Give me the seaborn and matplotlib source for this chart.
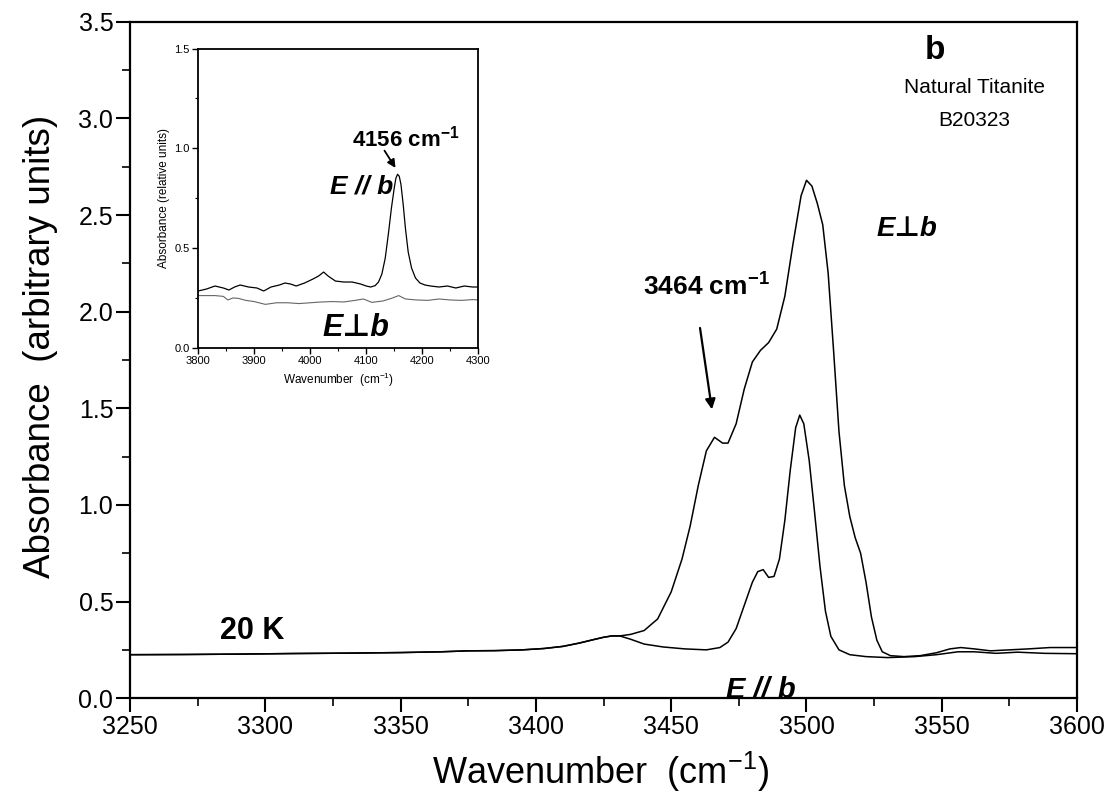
import numpy as np
import matplotlib
matplotlib.use('Agg')
import matplotlib.pyplot as plt
from matplotlib.ticker import MultipleLocator, FormatStrFormatter
import seaborn as sns

# ---------------- data ----------------
base_wn = [3250, 3270, 3290, 3310, 3330, 3350, 3365, 3375, 3385, 3395, 3403,
           3410, 3416, 3421, 3425, 3428, 3431]
base_abs = [0.225, 0.226, 0.228, 0.231, 0.233, 0.236, 0.240, 0.245, 0.246, 0.250, 0.257,
            0.268, 0.285, 0.302, 0.315, 0.322, 0.322]

perp_wn = base_wn + [3435, 3440, 3445, 3450, 3454, 3457, 3460, 3463, 3466, 3469, 3471,
                     3474, 3477, 3480, 3483, 3486, 3489, 3492, 3495, 3498, 3500, 3502,
                     3504, 3506, 3508, 3510, 3512, 3514, 3516, 3518, 3520, 3522, 3524,
                     3526, 3528, 3531, 3536, 3542, 3548, 3553, 3557, 3562, 3568, 3575,
                     3582, 3590, 3600]
perp_abs = base_abs + [0.330, 0.350, 0.410, 0.550, 0.720, 0.890, 1.100, 1.280, 1.350, 1.320, 1.320,
                       1.420, 1.600, 1.740, 1.800, 1.840, 1.910, 2.080, 2.350, 2.600, 2.680, 2.650,
                       2.560, 2.450, 2.200, 1.800, 1.380, 1.100, 0.940, 0.830, 0.750, 0.600, 0.420,
                       0.300, 0.240, 0.220, 0.215, 0.220, 0.235, 0.255, 0.262, 0.255, 0.245, 0.250,
                       0.255, 0.262, 0.262]

par_wn = base_wn + [3435, 3440, 3447, 3455, 3463, 3468, 3471, 3474, 3477, 3480, 3482,
                    3484, 3486, 3488, 3490, 3492, 3494, 3496, 3497.5, 3499, 3501, 3503,
                    3505, 3507, 3509, 3512, 3516, 3522, 3530, 3540, 3548, 3556, 3562,
                    3570, 3578, 3588, 3600]
par_abs = base_abs + [0.305, 0.280, 0.265, 0.255, 0.250, 0.262, 0.290, 0.360, 0.480, 0.600, 0.655,
                      0.665, 0.625, 0.630, 0.720, 0.920, 1.180, 1.400, 1.465, 1.420, 1.230, 0.960,
                      0.680, 0.450, 0.320, 0.250, 0.225, 0.215, 0.210, 0.215, 0.225, 0.240, 0.240,
                      0.232, 0.238, 0.232, 0.230]

inset_par_wn = [3800, 3815, 3830, 3845, 3855, 3865, 3875, 3890, 3905, 3917, 3930, 3945,
                3955, 3965, 3975, 3990, 4005, 4015, 4024, 4032, 4045, 4060, 4075, 4090,
                4100, 4108, 4116, 4122, 4128, 4134, 4140, 4145, 4150, 4153, 4156, 4159,
                4162, 4166, 4170, 4175, 4181, 4188, 4196, 4205, 4215, 4230, 4245, 4260,
                4275, 4290, 4300]
inset_par_abs = [0.285, 0.295, 0.310, 0.300, 0.290, 0.305, 0.315, 0.305, 0.300, 0.285, 0.305, 0.315,
                 0.325, 0.320, 0.310, 0.325, 0.345, 0.360, 0.380, 0.360, 0.335, 0.330, 0.330, 0.320,
                 0.310, 0.305, 0.312, 0.330, 0.370, 0.450, 0.580, 0.700, 0.800, 0.850, 0.870, 0.860,
                 0.820, 0.720, 0.600, 0.480, 0.400, 0.350, 0.325, 0.315, 0.310, 0.305, 0.310, 0.300,
                 0.310, 0.305, 0.305]

inset_perp_wn = [3800, 3815, 3830, 3845, 3853, 3862, 3872, 3885, 3900, 3920, 3940, 3960,
                 3980, 4000, 4020, 4040, 4060, 4080, 4095, 4110, 4130, 4145, 4158, 4170,
                 4190, 4210, 4230, 4250, 4270, 4290, 4300]
inset_perp_abs = [0.262, 0.262, 0.262, 0.258, 0.240, 0.250, 0.248, 0.238, 0.232, 0.218, 0.226, 0.226,
                  0.222, 0.226, 0.230, 0.232, 0.230, 0.238, 0.245, 0.228, 0.235, 0.248, 0.262, 0.245,
                  0.240, 0.238, 0.245, 0.240, 0.238, 0.242, 0.240]

# ---------------- style ----------------
sns.set_theme(style='ticks')
plt.rcParams['font.family'] = ['Liberation Sans', 'DejaVu Sans']
plt.rcParams['mathtext.fontset'] = 'custom'
plt.rcParams['mathtext.rm'] = 'Liberation Sans'
plt.rcParams['mathtext.it'] = 'Liberation Sans:italic'
plt.rcParams['mathtext.bf'] = 'Liberation Sans:bold'
for k in ['text.color', 'axes.labelcolor', 'xtick.color', 'ytick.color', 'axes.edgecolor']:
    plt.rcParams[k] = 'black'
FAM = ['Liberation Sans', 'DejaVu Sans']

fig = plt.figure(figsize=(11.07, 8.09), dpi=100)
ax = fig.add_axes([0.1174, 0.137, 0.8556, 0.836])

sns.lineplot(x=perp_wn, y=perp_abs, ax=ax, color='black', lw=1.1, estimator=None, sort=False)
sns.lineplot(x=par_wn, y=par_abs, ax=ax, color='black', lw=1.1, estimator=None, sort=False)

ax.set_xlim(3250, 3600)
ax.set_ylim(0, 3.5)
ax.xaxis.set_major_locator(MultipleLocator(50))
ax.xaxis.set_minor_locator(MultipleLocator(25))
ax.yaxis.set_major_locator(MultipleLocator(0.5))
ax.yaxis.set_minor_locator(MultipleLocator(0.25))
ax.yaxis.set_major_formatter(FormatStrFormatter('%.1f'))
ax.tick_params(which='major', direction='out', length=10, width=1.5, labelsize=18, pad=2,
               top=False, right=False)
ax.tick_params(which='minor', direction='out', length=6, width=1.2, top=False, right=False)
for s in ax.spines.values():
    s.set_linewidth(1.6)

ax.set_xlabel('Wavenumber  (cm$^{-1}$)', fontsize=26)
ax.set_ylabel('Absorbance  (arbitrary units)', fontsize=26.5)
ax.xaxis.set_label_coords(0.497, -0.077)
ax.yaxis.set_label_coords(-0.076, 0.52)

# annotations main
ax.text(3547.5, 3.35, 'b', fontsize=24, fontweight='bold', ha='center', va='center')
ax.text(3562, 3.16, 'Natural Titanite', fontsize=15, ha='center', va='center')
ax.text(3562, 2.99, 'B20323', fontsize=15, ha='center', va='center')
ax.text(3537, 2.43, 'E\u22a5b', fontsize=20, fontweight='bold', style='italic',
        ha='center', va='center', family=FAM)
ax.text(3463, 2.13, r'$\mathbf{3464\ cm^{-1}}$', fontsize=19, ha='center', va='center')
ax.annotate('', xy=(3465.2, 1.48), xytext=(3460.5, 1.93),
            arrowprops=dict(arrowstyle='-|>', color='black', lw=1.6, mutation_scale=15))
ax.text(3483, 0.04, 'E // b', fontsize=21, fontweight='bold', style='italic',
        ha='center', va='center')
ax.text(3295, 0.35, '20 K', fontsize=22, fontweight='bold', ha='center', va='center')

# ---------------- inset ----------------
ins = fig.add_axes([0.179, 0.570, 0.253, 0.370])
sns.lineplot(x=inset_par_wn, y=inset_par_abs, ax=ins, color='black', lw=0.9,
             estimator=None, sort=False)
sns.lineplot(x=inset_perp_wn, y=inset_perp_abs, ax=ins, color='#666666', lw=0.8,
             estimator=None, sort=False)
ins.set_xlim(3800, 4300)
ins.set_ylim(0, 1.5)
ins.xaxis.set_major_locator(MultipleLocator(100))
ins.xaxis.set_minor_locator(MultipleLocator(50))
ins.yaxis.set_major_locator(MultipleLocator(0.5))
ins.yaxis.set_minor_locator(MultipleLocator(0.25))
ins.yaxis.set_major_formatter(FormatStrFormatter('%.1f'))
ins.tick_params(which='major', direction='out', length=4, width=1.0, labelsize=8, pad=2,
                top=False, right=False)
ins.tick_params(which='minor', direction='out', length=2.5, width=0.8, top=False, right=False)
for s in ins.spines.values():
    s.set_linewidth(1.3)
ins.set_xlabel('Wavenumber  (cm$^{-1}$)', fontsize=8.5, labelpad=3)
ins.set_ylabel('Absorbance (relative units)', fontsize=8.5, labelpad=3)

ins.text(4170, 1.05, r'$\mathbf{4156\ cm^{-1}}$', fontsize=16, ha='center', va='center')
ins.annotate('', xy=(4155, 0.89), xytext=(4130, 1.0),
             arrowprops=dict(arrowstyle='-|>', color='black', lw=1.3, mutation_scale=12))
ins.text(4092, 0.81, 'E // b', fontsize=19, fontweight='bold', style='italic',
         ha='center', va='center')
ins.text(4082, 0.10, 'E\u22a5b', fontsize=22, fontweight='bold', style='italic',
         ha='center', va='center', family=FAM)

fig.savefig('out.png', dpi=100)
